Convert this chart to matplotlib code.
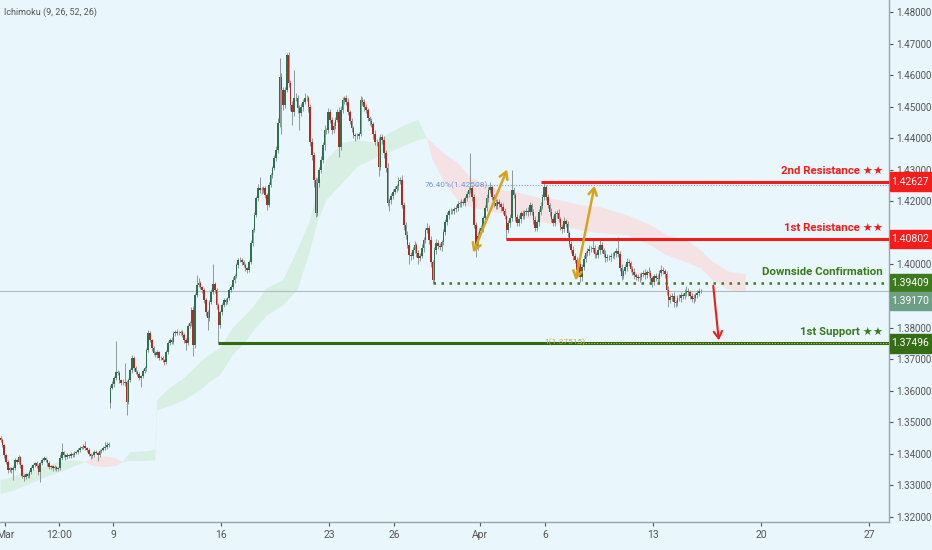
import numpy as np
import matplotlib
matplotlib.use('Agg')
import matplotlib.pyplot as plt
from matplotlib.patches import Rectangle
from matplotlib.transforms import blended_transform_factory

plt.rcParams['font.family'] = ['Roboto', 'DejaVu Sans']

# USDCAD 2H candles, closes in pips (price * 1e4), one list per trading week
close_w1 = [13443, 13427, 13396, 13374, 13348, 13354, 13348, 13354, 13380, 13374,
            13389, 13364, 13329, 13326, 13335, 13329, 13342, 13354, 13364, 13370,
            13361, 13342, 13370, 13380, 13386, 13380, 13370, 13358, 13361, 13354,
            13358, 13351, 13354, 13386, 13405, 13396, 13389, 13396, 13392, 13399,
            13396, 13402, 13405, 13412, 13418, 13421, 13424, 13418, 13412, 13399,
            13392, 13396, 13405, 13402, 13396, 13408, 13412, 13418, 13421, 13427,
            13430]
close_w2 = [13610, 13620, 13640, 13659, 13656, 13633, 13624, 13624, 13627, 13564,
            13633, 13665, 13703, 13672, 13659, 13652, 13640, 13646, 13662, 13672,
            13728, 13782, 13760, 13735, 13719, 13713, 13722, 13703, 13703, 13697,
            13690, 13722, 13751, 13760, 13754, 13782, 13786, 13782, 13782, 13786,
            13776, 13760, 13751, 13805, 13814, 13855, 13744, 13903, 13935, 13941,
            13928, 13919, 13887, 13849, 13830, 13881, 13912, 13938, 13919, 13871,
            13808, 13849]
close_w3 = [13871, 13887, 13881, 13893, 13919, 13928, 13950, 13963, 13998, 14014,
            14014, 14007, 13998, 13988, 13982, 14007, 14068, 14109, 14157, 14210,
            14242, 14236, 14236, 14242, 14220, 14188, 14252, 14283, 14305, 14337,
            14362, 14448, 14594, 14553, 14505, 14553, 14664, 14575, 14505, 14483,
            14527, 14527, 14496, 14480, 14499, 14515, 14527, 14527, 14499, 14388,
            14347, 14267, 14163, 14258, 14299, 14331, 14378, 14426, 14426, 14483]
close_w4 = [14458, 14426, 14439, 14458, 14483, 14372, 14489, 14521, 14527, 14515,
            14483, 14454, 14432, 14410, 14407, 14407, 14413, 14521, 14515, 14499,
            14489, 14464, 14454, 14445, 14413, 14388, 14388, 14309, 14404, 14394,
            14353, 14305, 14195, 14204, 14217, 14230, 14239, 14248, 14264, 14267,
            14188, 14125, 14093, 14061, 14030, 14027, 14045, 14061, 14036, 14020,
            14027, 14052, 14077, 14109, 14115, 14077, 14007, 13950, 14045, 14068]
close_w5 = [14058, 14055, 14071, 14103, 14134, 14157, 14169, 14169, 14169, 14175,
            14179, 14191, 14195, 14198, 14195, 14210, 14223, 14236, 14242, 14214,
            14125, 14058, 14090, 14106, 14115, 14147, 14179, 14210, 14236, 14245,
            14214, 14195, 14185, 14198, 14191, 14182, 14169, 14153, 14109, 14131,
            14147, 14236, 14220, 14150, 14131, 14144, 14163, 14153, 14166, 14169,
            14166, 14188, 14166, 14141, 14115, 14134, 14166, 14185, 14214, 14245]
close_w6 = [14213, 14188, 14166, 14144, 14131, 14160, 14163, 14144, 14118, 14112,
            14137, 14128, 14099, 14064, 14045, 14027, 14014, 13982, 14001, 13960,
            13992, 14017, 14036, 14042, 14049, 14049, 14052, 14033, 14030, 14045,
            14061, 14045, 14033, 14020, 14023, 14023, 14027, 14027, 14036, 14042,
            14033, 13988, 13963, 13979, 13992, 14007, 14004, 13985, 13976, 13966,
            13960, 13957, 13960, 13969, 13973, 13966, 13976, 13973, 13957, 13944]
close_w7 = [13963, 13957, 13954, 13973, 13982, 13979, 13969, 13919, 13887, 13897,
            13900, 13881, 13878, 13893, 13893, 13903, 13900, 13909, 13916, 13912,
            13900, 13890, 13893, 13903, 13909, 13916, 13917]

# wick lengths in pips above / below the body
up_w1 = [6, 8, 5, 4, 6, 5, 4, 6, 8, 5,
         7, 4, 5, 6, 4, 5, 6, 7, 5, 4,
         6, 8, 5, 6, 7, 5, 4, 6, 5, 4,
         6, 5, 4, 12, 30, 5, 4, 6, 5, 7,
         4, 6, 5, 6, 8, 5, 6, 18, 5, 6,
         5, 4, 6, 7, 5, 6, 4, 8, 15, 10,
         9]
dn_w1 = [5, 6, 8, 6, 9, 5, 10, 30, 5, 7,
         5, 8, 6, 12, 5, 7, 6, 5, 4, 6,
         5, 10, 30, 5, 4, 6, 7, 5, 6, 8,
         5, 6, 4, 5, 6, 5, 7, 4, 6, 5,
         6, 5, 4, 6, 5, 4, 6, 5, 7, 6,
         9, 5, 6, 4, 20, 5, 6, 4, 5, 6,
         4]
up_w2 = [8, 10, 6, 100, 8, 6, 5, 12, 60, 6,
         8, 7, 10, 6, 5, 8, 6, 5, 7, 6,
         8, 10, 6, 5, 8, 6, 7, 5, 8, 6,
         5, 7, 8, 6, 10, 7, 5, 8, 6, 7,
         5, 6, 8, 7, 6, 10, 12, 8, 31, 16,
         6, 5, 8, 6, 7, 8, 10, 62, 6, 8,
         7, 6]
dn_w2 = [15, 6, 8, 5, 7, 10, 6, 5, 8, 42,
         6, 5, 8, 10, 6, 5, 7, 28, 6, 5,
         8, 6, 7, 10, 6, 5, 8, 7, 6, 5,
         8, 6, 5, 7, 6, 5, 8, 6, 7, 5,
         6, 8, 23, 6, 7, 10, 35, 8, 6, 7,
         5, 8, 10, 12, 38, 8, 6, 7, 10, 12,
         58, 8]
up_w3 = [8, 6, 7, 5, 8, 6, 10, 7, 8, 6,
         10, 8, 6, 7, 5, 8, 10, 6, 8, 6,
         12, 35, 10, 8, 6, 7, 10, 8, 6, 10,
         12, 15, 60, 12, 10, 8, 6, 10, 8, 12,
         90, 15, 10, 8, 12, 10, 15, 10, 8, 10,
         12, 8, 10, 15, 10, 12, 10, 15, 8, 12]
dn_w3 = [8, 6, 10, 5, 7, 6, 5, 8, 6, 10,
         7, 8, 6, 10, 8, 6, 5, 8, 6, 7,
         10, 8, 12, 10, 8, 15, 6, 8, 10, 6,
         8, 10, 12, 140, 15, 10, 8, 12, 15, 40,
         12, 10, 15, 54, 10, 12, 8, 10, 15, 12,
         15, 20, 13, 10, 12, 8, 10, 15, 12, 10]
up_w4 = [10, 8, 12, 8, 10, 15, 12, 10, 8, 10,
         12, 8, 10, 8, 6, 10, 8, 12, 10, 8,
         10, 8, 6, 10, 8, 12, 10, 15, 10, 8,
         12, 10, 15, 8, 10, 8, 10, 8, 12, 10,
         15, 10, 8, 12, 10, 8, 10, 12, 8, 10,
         8, 12, 10, 8, 15, 10, 12, 8, 10, 12]
dn_w4 = [10, 12, 8, 10, 8, 32, 10, 8, 12, 10,
         8, 10, 12, 8, 15, 10, 8, 6, 10, 12,
         8, 10, 12, 8, 15, 10, 12, 30, 10, 12,
         15, 12, 10, 25, 12, 10, 8, 10, 12, 8,
         10, 15, 12, 10, 30, 12, 10, 8, 12, 20,
         10, 8, 12, 10, 8, 12, 15, 9, 10, 12]
up_w5 = [8, 10, 6, 8, 10, 8, 6, 10, 8, 6,
         8, 10, 6, 8, 10, 8, 10, 8, 111, 10,
         8, 10, 12, 8, 10, 8, 10, 12, 10, 16,
         8, 10, 12, 8, 10, 8, 12, 10, 8, 10,
         12, 63, 10, 8, 10, 12, 8, 10, 8, 10,
         12, 10, 8, 10, 12, 8, 10, 12, 10, 17]
dn_w5 = [10, 8, 12, 8, 10, 8, 12, 8, 10, 8,
         10, 8, 10, 12, 8, 10, 8, 10, 8, 12,
         10, 35, 12, 8, 10, 12, 8, 10, 12, 8,
         10, 12, 8, 10, 8, 12, 10, 8, 29, 10,
         12, 8, 10, 12, 10, 8, 12, 10, 8, 10,
         12, 8, 10, 12, 10, 8, 12, 10, 8, 10]
up_w6 = [8, 10, 8, 12, 10, 8, 10, 12, 8, 10,
         12, 8, 10, 8, 10, 12, 8, 10, 12, 8,
         10, 12, 8, 10, 12, 10, 25, 10, 8, 12,
         15, 10, 8, 12, 10, 8, 10, 12, 8, 10,
         44, 10, 12, 8, 10, 12, 10, 8, 10, 12,
         8, 10, 12, 8, 10, 12, 8, 15, 10, 8]
dn_w6 = [10, 8, 12, 10, 8, 10, 12, 8, 10, 12,
         8, 10, 12, 10, 8, 12, 10, 8, 10, 16,
         12, 10, 8, 10, 12, 8, 10, 12, 8, 10,
         12, 8, 10, 12, 8, 10, 12, 8, 10, 12,
         8, 10, 13, 10, 8, 12, 10, 8, 10, 12,
         8, 10, 12, 8, 10, 12, 8, 10, 12, 16]
up_w7 = [8, 10, 12, 8, 15, 10, 8, 10, 12, 8, 10, 12, 8, 10,
         12, 10, 8, 12, 15, 10, 8, 10, 12, 8, 10, 8, 6]
dn_w7 = [10, 8, 12, 10, 8, 10, 12, 15, 22, 10, 12, 16, 12, 10,
         8, 12, 10, 8, 10, 12, 8, 10, 12, 8, 10, 8, 6]

FIRST_OPEN = 13450
GAP_BAR = 61          # first bar after the 9 Mar weekend gap
GAP_OPEN = 13560

# Ichimoku cloud (leading spans A / B, pips) at bar positions
cloud_bar = [0, 8, 16, 25, 33, 41, 47, 52, 58, 64, 68, 72, 80, 86, 87, 94, 102,
             111, 116, 122, 129, 136, 140, 148, 157, 165, 172, 176, 181, 190,
             198, 209, 216, 225, 232, 237, 240, 246, 254, 261, 268, 277, 287,
             300, 311, 322, 333, 348, 361, 370, 381, 389, 396, 405, 414]
span_a = [13316, 13329, 13345, 13361, 13374, 13380, 13374, 13361, 13358, 13361,
          13374, 13405, 13408, 13412, 13570, 13608, 13640, 13690, 13713, 13735,
          13798, 13839, 13862, 13925, 13950, 14045, 14141, 14236, 14331, 14385,
          14394, 14385, 14416, 14442, 14458, 14400, 14331, 14267, 14204, 14182,
          14172, 14163, 14157, 14134, 14125, 14109, 14099, 14093, 14061, 14030,
          14007, 13988, 13950, 13919, 13912]
span_b = [13272, 13285, 13304, 13326, 13342, 13361, 13374, 13389, 13392, 13386,
          13374, 13377, 13377, 13380, 13538, 13551, 13570, 13602, 13627, 13649,
          13713, 13754, 13786, 13839, 13871, 13919, 14045, 14134, 14204, 14258,
          14309, 14340, 14356, 14378, 14394, 14400, 14385, 14353, 14321, 14277,
          14258, 14236, 14229, 14210, 14204, 14188, 14182, 14156, 14125, 14093,
          14077, 14045, 14007, 13976, 13969]

# x axis: trading days from 2 Mar, 12 bars a day
BARS_PER_DAY = 12
tick_days = [0, 2.5, 5, 10, 15, 18, 22, 25, 30, 35, 40]
tick_labels = ['Mar', '12:00', '9', '16', '23', '26', 'Apr', '6', '13', '20', '27']

# key levels
res2 = 1.42627
res1 = 1.40802
confirm = 1.39409
support1 = 1.37496
last_price = 1.39170
fib_764 = 1.42508
fib_100 = 1.37515

BG = '#e9f6fc'
UP = '#2c7050'
DOWN = '#b02a22'
RED = '#f01c1c'
GREEN = '#3b7a1c'
DKGREEN = '#2f6a12'
GOLD = '#d8a31c'

closes = np.array(close_w1 + close_w2 + close_w3 + close_w4 + close_w5 + close_w6 + close_w7) / 1e4
ups = np.array(up_w1 + up_w2 + up_w3 + up_w4 + up_w5 + up_w6 + up_w7) / 1e4
dns = np.array(dn_w1 + dn_w2 + dn_w3 + dn_w4 + dn_w5 + dn_w6 + dn_w7) / 1e4
n = len(closes)
opens = np.r_[FIRST_OPEN / 1e4, closes[:-1]]
opens[GAP_BAR] = GAP_OPEN / 1e4
x = np.arange(n)
highs = np.maximum(opens, closes) + ups
lows = np.minimum(opens, closes) - dns

fig = plt.figure(figsize=(9.32, 5.5), dpi=100)
fig.patch.set_facecolor(BG)
ax = fig.add_axes([0, 28 / 550, 889 / 932, 522 / 550])
ax.set_facecolor(BG)
ax.set_xlim(-0.3, 493.6)
ax.set_ylim(1.3184, 1.4838)

# cloud
ck = np.array(cloud_bar)
sa = np.array(span_a) / 1e4
sb = np.array(span_b) / 1e4
ax.fill_between(ck, sa, sb, where=sa >= sb, interpolate=True, color='#d8efe4', lw=0, zorder=1)
ax.fill_between(ck, sa, sb, where=sa <= sb, interpolate=True, color='#f5e2e5', lw=0, zorder=1)

ax.axhline(last_price, color='#b0bcc0', lw=0.8, zorder=2)

# candles
rising = closes >= opens
ax.vlines(x, lows, highs, color='#7f8a8a', lw=0.6, zorder=3)
body = np.maximum(np.abs(closes - opens), 0.00012)
ax.bar(x, body, bottom=np.minimum(opens, closes), width=0.9,
       color=np.where(rising, UP, DOWN), linewidth=0, zorder=4)

right = 493.6
ax.hlines(res2, 300, right, color=RED, lw=2.2, zorder=5)
ax.hlines(res1, 281, right, color=RED, lw=2.2, zorder=5)
ax.hlines(confirm, 240, right, color=GREEN, lw=1.8, linestyles=(0, (1, 2.2)), zorder=5)
ax.hlines(support1, 121, right, color=DKGREEN, lw=2.2, zorder=5)
ax.hlines(fib_764, 263, right, color='#7a9fd6', lw=0.8, linestyles=(0, (1, 1.5)), zorder=5)
ax.hlines(fib_100, 320, right, color='#d4bf66', lw=0.8, linestyles=(0, (1, 1.5)), zorder=5)
ax.text(235.8, fib_764, '76.40%(1.42508)', fontsize=6, color='#6f9bd9', va='center', zorder=6)
ax.text(302, fib_100 + 0.0002, '1(1.37515)', fontsize=6, color='#c2ab4e', va='center', zorder=6)

# arrows
ax.annotate('', xy=(282, 1.4309), xytext=(262, 1.4030),
            arrowprops=dict(arrowstyle='<->,head_length=0.5,head_width=0.3', color=GOLD, lw=1.8), zorder=6)
ax.annotate('', xy=(330.3, 1.4258), xytext=(319.2, 1.3941),
            arrowprops=dict(arrowstyle='<->,head_length=0.5,head_width=0.3', color=GOLD, lw=1.8), zorder=6)
ax.annotate('', xy=(399.2, 1.3751), xytext=(395.8, 1.3941),
            arrowprops=dict(arrowstyle='->,head_length=0.5,head_width=0.3', color=RED, lw=1.5), zorder=6)

# level names
lab_tr = blended_transform_factory(ax.transAxes, ax.transData)
for txt, yv, col in [('2nd Resistance \u2605\u2605', 1.4296, RED),
                     ('1st Resistance \u2605\u2605', 1.4116, RED),
                     ('Downside Confirmation', 1.3976, GREEN),
                     ('1st Support \u2605\u2605', 1.3786, GREEN)]:
    ax.text(883 / 889, yv, txt, transform=lab_tr, ha='right', va='center',
            fontsize=8.2, color=col, fontweight='bold', zorder=7)

ax.text(4 / 889, 1 - 12 / 522, 'Ichimoku (9, 26, 52, 26)', transform=ax.transAxes,
        fontsize=6.5, color='#555555', va='center')

# axes; the 1.41 and 1.39 labels sit under the price boxes
ax.yaxis.tick_right()
yt = np.round(np.arange(1.32, 1.4801, 0.01), 2)
ax.set_yticks(yt)
ax.set_yticklabels(['' if v in (1.41, 1.39) else f'{v:.5f}' for v in yt])
ax.set_xticks([d * BARS_PER_DAY + 2.5 for d in tick_days])
ax.set_xticklabels(tick_labels)
ax.tick_params(axis='both', labelsize=7.5, colors='#555555', length=3, width=0.8, pad=3)
ax.tick_params(axis='y', labelsize=7, pad=2)
for s in ['left', 'top']:
    ax.spines[s].set_visible(False)
for s in ['right', 'bottom']:
    ax.spines[s].set_color('#9ba5a9')
    ax.spines[s].set_linewidth(1)

# price boxes on the right scale
box_tr = blended_transform_factory(fig.transFigure, ax.transData)
for yv, txt, col in [(res2, '1.42627', '#f51c1c'), (res1, '1.40802', '#f51c1c'),
                     (confirm, '1.39409', '#3d7a1d'), (1.3884, '1.39170', '#6e9f86'),
                     (support1, '1.37496', '#346d16')]:
    ax.add_patch(Rectangle((890 / 932, yv - 0.0029), 42 / 932, 0.0058, transform=box_tr,
                           color=col, clip_on=False, zorder=8))
    ax.text(910 / 932, yv, txt, transform=box_tr, ha='center', va='center',
            fontsize=7.5, color='white', clip_on=False, zorder=9)

fig.savefig('out.png', dpi=100, facecolor=BG)
